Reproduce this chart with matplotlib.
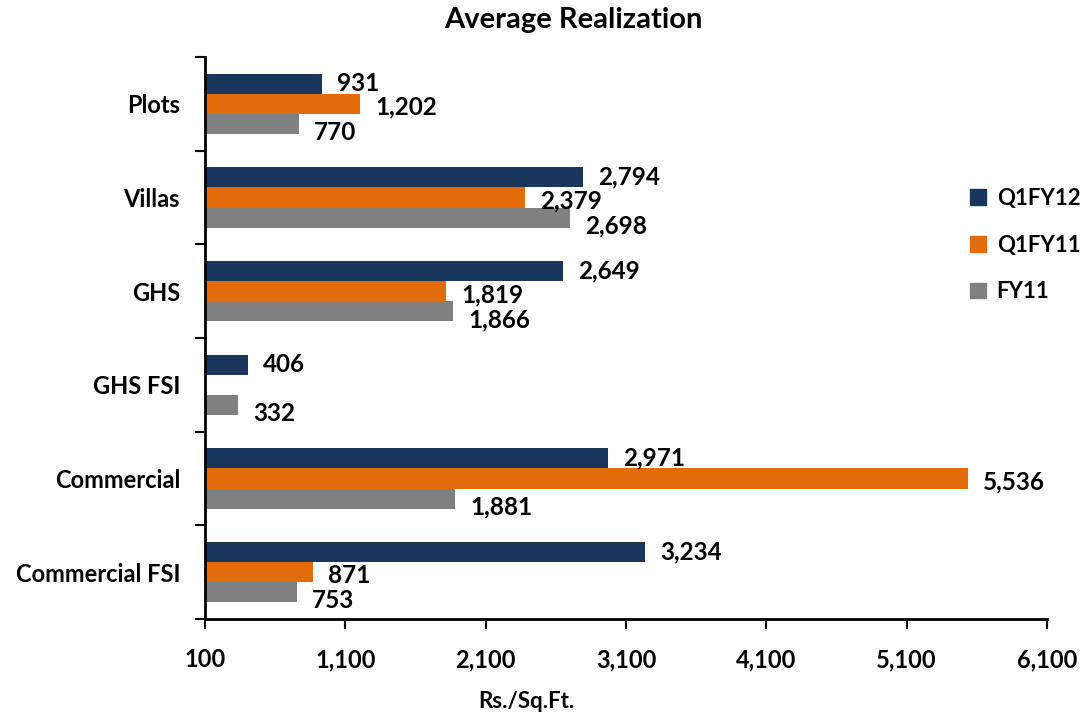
import numpy as np
import matplotlib
matplotlib.use('Agg')
import matplotlib.pyplot as plt
from matplotlib.patches import Patch

plt.rcParams['font.family'] = ['Lato', 'DejaVu Sans']
plt.rcParams['font.weight'] = 'bold'

# Data
categories = ['Plots', 'Villas', 'GHS', 'GHS FSI', 'Commercial', 'Commercial FSI']
series_names = ['Q1FY12', 'Q1FY11', 'FY11']
q1fy12 = [931, 2794, 2649, 406, 2971, 3234]
q1fy11 = [1202, 2379, 1819, np.nan, 5536, 871]
fy11 = [770, 2698, 1866, 332, 1881, 753]
x_ticks = [100, 1100, 2100, 3100, 4100, 5100, 6100]

colors = ['#1B365D', '#E36C0A', '#808080']
base = 100

fig = plt.figure(figsize=(10.83, 7.17), dpi=100)
ax = fig.add_axes([205 / 1083, 1 - 619 / 717, 842 / 1083, (619 - 57) / 717])

y = np.arange(len(categories))
bar_h = 0.215
offsets = [-bar_h, 0, bar_h]
# labels of lower series sit a little lower, as in the original
label_dy = [0, -2.5, -6]

for vals, off, col, dy in zip([q1fy12, q1fy11, fy11], offsets, colors, label_dy):
    vals = np.array(vals, dtype=float)
    ax.barh(y + off, vals - base, left=base, height=bar_h, color=col)
    for yi, v in zip(y, vals):
        if np.isnan(v):
            continue
        ax.annotate(f'{int(v):,}', xy=(v, yi + off), xytext=(11, dy),
                    textcoords='offset points', va='center', ha='left',
                    fontsize=17.5, fontweight='bold')

ax.set_xlim(base, 6100)
ax.set_ylim(len(categories) - 0.5, -0.5)

ax.set_xticks(x_ticks)
ax.set_xticklabels([f'{t:,}' for t in x_ticks])
ax.tick_params(axis='x', length=7, width=1.5, pad=14, labelsize=17)

# boundary ticks on the category axis, labels in between
ax.set_yticks(np.arange(-0.5, len(categories), 1))
ax.set_yticklabels([])
ax.set_yticks(y, minor=True)
ax.set_yticklabels(categories, minor=True)
ax.tick_params(axis='y', which='major', length=7, width=1.5)
ax.tick_params(axis='y', which='minor', length=0, pad=18, labelsize=17)

for s in ['top', 'right']:
    ax.spines[s].set_visible(False)
for s in ['left', 'bottom']:
    ax.spines[s].set_linewidth(2)

ax.set_xlabel('Rs./Sq.Ft.', fontsize=16, fontweight='bold', x=0.382, labelpad=14)
fig.suptitle('Average Realization', x=0.529, y=0.99, fontsize=21, fontweight='bold')

handles = [Patch(color=c) for c in colors]
fig.legend(handles, series_names, loc='upper left',
           bbox_to_anchor=(950 / 1083, 1 - 168 / 717), frameon=False,
           fontsize=16, handlelength=0.7, handleheight=0.7,
           handletextpad=0.5, labelspacing=1.15)

fig.savefig('out.png', dpi=100)
